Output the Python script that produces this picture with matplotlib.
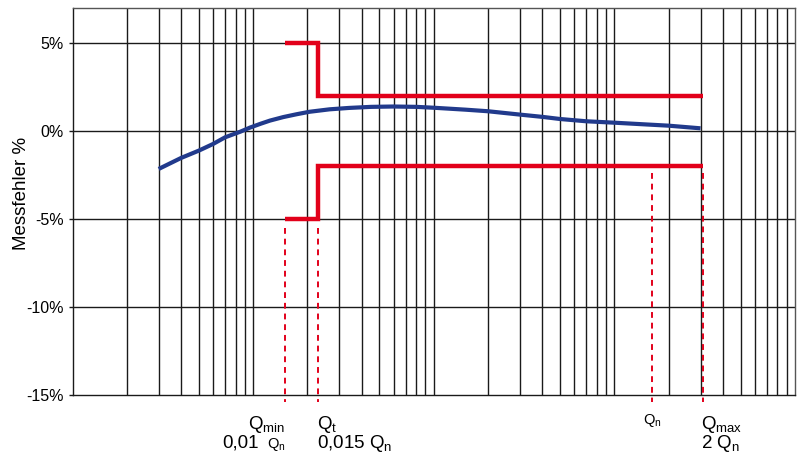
import numpy as np
import matplotlib
matplotlib.use("Agg")
import matplotlib.pyplot as plt
import matplotlib.transforms as mtransforms

plt.rcParams['font.family'] = ['Liberation Sans', 'DejaVu Sans']
plt.rcParams['mathtext.fontset'] = 'custom'
plt.rcParams['mathtext.rm'] = 'Liberation Sans'
plt.rcParams['mathtext.it'] = 'Liberation Sans:italic'

# flow values (log axis, arbitrary units) and measuring error in %
flow = [3, 4, 5, 6, 7, 8.5, 9.6, 11, 12.4, 14.7, 17.4, 20.5, 26.5, 34, 45, 60, 80, 100,
        150, 200, 300, 400, 500, 700, 1000, 1500, 2000, 3000]
error = [-2.15, -1.52, -1.11, -0.73, -0.35, -0.03, 0.2, 0.42, 0.6, 0.8, 0.96, 1.1, 1.24, 1.32,
         1.38, 1.4, 1.38, 1.33, 1.22, 1.13, 0.94, 0.81, 0.69, 0.56, 0.48, 0.38, 0.31, 0.16]

# characteristic flows
q_min = 15.1
q_t = 22.8
q_n = 1620
q_max = 3080

# error limits
upper_x = [q_min, q_t, q_t, q_max]
upper_y = [5, 5, 2, 2]
lower_x = [q_min, q_t, q_t, q_max]
lower_y = [-5, -5, -2, -2]

yticks = [5, 0, -5, -10, -15]
ytick_labels = ['5%', '0%', '-5%', '-10%', '-15%']

red = '#e2001a'
blue = '#213a8c'

fig = plt.figure(figsize=(7.99, 4.59), dpi=100)
ax = fig.add_axes([72.5 / 799, 1 - 395 / 459, (795 - 72.5) / 799, (395 - 8) / 459])
ax.set_xscale('log')
ax.set_xlim(1, 10000)
ax.set_ylim(-15, 7)

# vertical grid at 2..10 of each decade
for dec in [1, 10, 100, 1000]:
    for m in range(2, 11):
        if dec * m < 10000:
            ax.axvline(dec * m, color='#1a1a1a', lw=1.0, zorder=1)
for yv in [5, 0, -5, -10]:
    ax.axhline(yv, color='#1a1a1a', lw=1.0, zorder=1)

# limits
ax.plot(upper_x, upper_y, color=red, lw=3.2, solid_joinstyle='miter', solid_capstyle='butt', zorder=3)
ax.plot(lower_x, lower_y, color=red, lw=3.2, solid_joinstyle='miter', solid_capstyle='butt', zorder=3)

# dotted markers
dots = (0, (3, 2.5))
ax.plot([q_min, q_min], [-5.5, -15.4], color=red, lw=1.4, ls=dots, clip_on=False, zorder=2)
ax.plot([q_t, q_t], [-5.5, -15.4], color=red, lw=1.4, ls=dots, clip_on=False, zorder=2)
ax.plot([q_n, q_n], [-2.4, -15.4], color=red, lw=1.4, ls=dots, clip_on=False, zorder=2)
ax.plot([q_max, q_max], [-2.4, -15.4], color=red, lw=1.4, ls=dots, clip_on=False, zorder=2)

# error curve
ax.plot(flow, error, color=blue, lw=3.0, solid_capstyle='butt', solid_joinstyle='round', zorder=4)

ax.set_xticks([])
ax.xaxis.set_minor_locator(matplotlib.ticker.NullLocator())
ax.set_yticks(yticks)
ax.set_yticklabels(ytick_labels)
ax.tick_params(axis='y', length=3, width=1, pad=3.5, labelsize=11.5, color='#1a1a1a')

for side in ['left', 'bottom']:
    ax.spines[side].set_color('#1a1a1a')
    ax.spines[side].set_linewidth(1.0)
for side in ['top', 'right']:
    ax.spines[side].set_color('#555555')
    ax.spines[side].set_linewidth(1.0)

fig.text(22 / 799, 1 - 193 / 459, 'Messfehler %', rotation=90, ha='center', va='center', fontsize=13.5)

trans = mtransforms.blended_transform_factory(ax.transData, ax.transAxes)
row1 = (395 - 429) / 387
row2 = (395 - 448) / 387
big = 13.5
small = 10.5

ax.text(q_min * 0.995, row1, r'Q$_{\mathrm{min}}$', transform=trans, ha='right', va='baseline', fontsize=big)
ax.text(q_min * 0.71, row2, '0,01', transform=trans, ha='right', va='baseline', fontsize=big)
ax.text(q_min * 1.0, row2, r'Q$_{\mathrm{n}}$', transform=trans, ha='right', va='baseline', fontsize=small)

ax.text(q_t * 0.99, row1, r'Q$_{\mathrm{t}}$', transform=trans, ha='left', va='baseline', fontsize=big)
ax.text(q_t * 0.99, row2, r'0,015 Q$_{\mathrm{n}}$', transform=trans, ha='left', va='baseline', fontsize=big)

ax.text(q_n, (395 - 424) / 387, r'Q$_{\mathrm{n}}$', transform=trans, ha='center', va='baseline', fontsize=small)

ax.text(q_max * 0.985, row1, r'Q$_{\mathrm{max}}$', transform=trans, ha='left', va='baseline', fontsize=big)
ax.text(q_max * 0.985, row2, r'2 Q$_{\mathrm{n}}$', transform=trans, ha='left', va='baseline', fontsize=big)

fig.savefig('out.png', dpi=100)
